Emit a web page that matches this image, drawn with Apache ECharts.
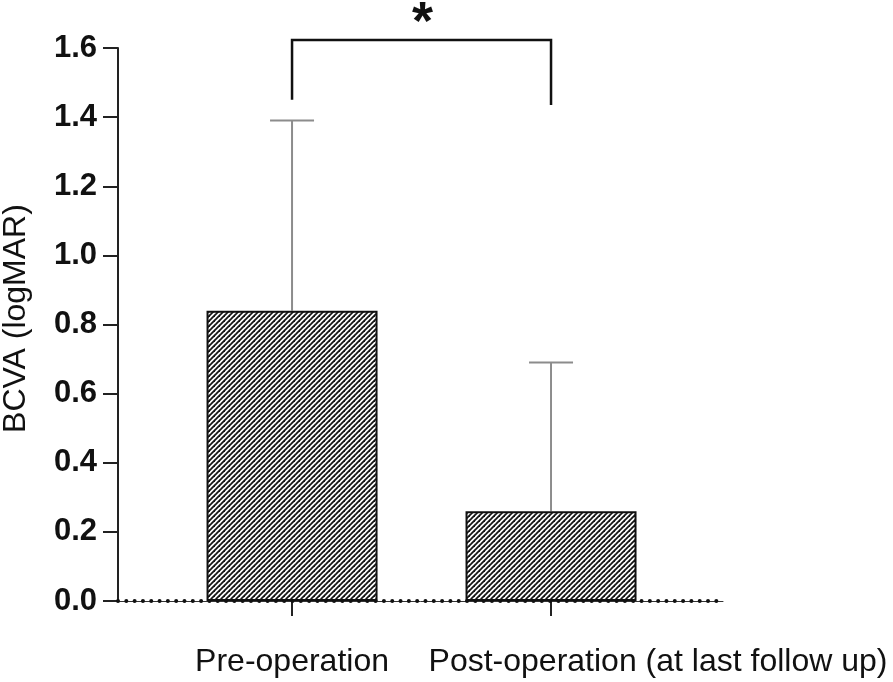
<!DOCTYPE html>
<html><head><meta charset="utf-8">
<script src="https://cdn.jsdelivr.net/npm/echarts@6/dist/echarts.min.js"></script>
<style>html,body{margin:0;padding:0;background:#fff}#c{width:893px;height:682px}</style>
</head><body><div id="c"></div>
<script>
// ---- data ----
const categories = ['Pre-operation', 'Post-operation (at last follow up)'];
const positions = [1, 2];
const means = [0.84, 0.26];
const upperSD = [1.39, 0.69];
const yTicks = [0, 0.2, 0.4, 0.6, 0.8, 1.0, 1.2, 1.4, 1.6];
const bracketLegs = [1.45, 1.435];
const bracketTop = 1.623;
const sigLabel = '*';
const yTitle = 'BCVA (logMAR)';

// ---- hatch pattern ----
function hatch() {
  const n = 5;
  const cv = document.createElement('canvas');
  cv.width = n; cv.height = n;
  const ctx = cv.getContext('2d');
  ctx.fillStyle = '#fff'; ctx.fillRect(0, 0, n, n);
  ctx.strokeStyle = '#151515'; ctx.lineWidth = 1.8;
  for (let k = -1; k <= 2; k++) {
    const c = k * n;
    ctx.beginPath();
    ctx.moveTo(c + 3, -3);
    ctx.lineTo(c - n - 3, n + 3);
    ctx.stroke();
  }
  return cv;
}

const FONT = "'Liberation Sans', Arial, sans-serif";
const chart = echarts.init(document.getElementById('c'), null, {renderer: 'canvas'});

const barData = positions.map((p, i) => [p, means[i]]);
const errData = positions.map((p, i) => [p, means[i], upperSD[i]]);
const bracketData = [[positions[0], bracketTop, positions[1], bracketLegs[0], bracketLegs[1]]];

chart.setOption({
  animation: false,
  backgroundColor: '#fff',
  grid: {left: 118, right: 170, top: 48, bottom: 81, outerBoundsMode: 'none', containLabel: false},
  xAxis: {
    type: 'value', min: 0.328, max: 2.664,
    splitLine: {show: false},
    axisLine: {show: true, lineStyle: {color: '#333', width: 1}},
    axisTick: {show: true, length: 15, lineStyle: {color: '#222', width: 2}, customValues: positions},
    axisLabel: {
      customValues: positions,
      margin: 45,
      color: '#111', fontSize: 32, fontFamily: FONT,
      formatter: v => {
        const i = positions.indexOf(v);
        return i === 0 ? '{a|' + categories[0] + '}' : '{b|' + categories[1] + '}';
      },
      rich: {
        a: {fontSize: 32, fontFamily: FONT, color: '#111'},
        b: {fontSize: 32, fontFamily: FONT, color: '#111', padding: [0, 0, 0, 214]}
      }
    }
  },
  yAxis: {
    type: 'value', min: 0, max: 1.6, interval: 0.2,
    splitLine: {show: false},
    axisLine: {show: true, lineStyle: {color: '#222', width: 2}},
    axisTick: {show: true, length: 15, lineStyle: {color: '#222', width: 2}},
    axisLabel: {
      margin: 21, fontSize: 31, fontWeight: 'bold', color: '#111', fontFamily: FONT,
      formatter: v => v.toFixed(1)
    },
    name: yTitle, nameLocation: 'middle', nameRotate: 90, nameGap: 86,
    nameTextStyle: {fontSize: 32, color: '#111', fontFamily: FONT, padding: [0, 0, 0, 12]}
  },
  series: [
    {
      type: 'bar', data: barData, barWidth: 171, z: 2,
      itemStyle: {color: {image: hatch(), repeat: 'repeat'}, borderColor: '#111', borderWidth: 2},
      markLine: {
        silent: true, symbol: 'none', label: {show: false},
        lineStyle: {color: '#111', width: 4, type: [0.01, 8.3], cap: 'round'},
        data: [{yAxis: 0}]
      }
    },
    {
      type: 'custom', data: errData, z: 1, clip: false,
      renderItem: (params, api) => {
        const x = api.value(0), m = api.value(1), hi = api.value(2);
        const b = api.coord([x, m]), t = api.coord([x, hi]);
        const st = {stroke: '#8c8c8c', lineWidth: 2, fill: null};
        return {type: 'group', children: [
          {type: 'line', shape: {x1: b[0], y1: b[1], x2: t[0], y2: t[1]}, style: st},
          {type: 'line', shape: {x1: t[0] - 22, y1: t[1], x2: t[0] + 22, y2: t[1]}, style: st}
        ]};
      }
    },
    {
      type: 'custom', data: bracketData, z: 3, clip: false,
      renderItem: (params, api) => {
        const x1 = api.value(0), top = api.value(1), x2 = api.value(2);
        const l = api.value(3), r = api.value(4);
        const p1 = api.coord([x1, l]), p2 = api.coord([x1, top]);
        const p3 = api.coord([x2, top]), p4 = api.coord([x2, r]);
        const mid = api.coord([(x1 + x2) / 2, top]);
        return {type: 'group', children: [
          {type: 'polyline', shape: {points: [p1, p2, p3, p4]},
           style: {stroke: '#111', lineWidth: 2.5, fill: null}},
          {type: 'text', x: mid[0] + 1, y: mid[1] + 11,
           style: {text: sigLabel, fontSize: 54, fontWeight: 'bold', fontFamily: FONT,
                   fill: '#111', align: 'center', verticalAlign: 'bottom'}}
        ]};
      }
    }
  ]
});
</script></body></html>
